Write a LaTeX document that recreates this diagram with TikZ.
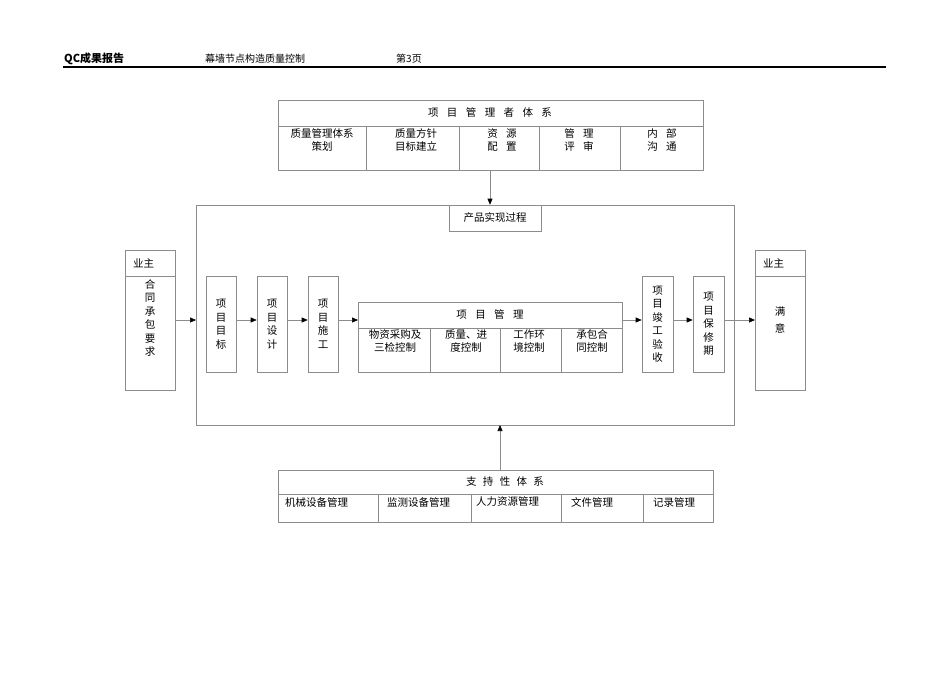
\documentclass[tikz,border=0pt]{standalone}
\usepackage{fontspec}
\setmainfont{Noto Sans CJK SC}
\usetikzlibrary{arrows.meta}
\begin{document}
\begin{tikzpicture}[x=1pt,y=-1pt,
  box/.style={draw=black!45,line width=0.6pt},
  lbl/.style={font=\fontsize{10.5}{13.5}\selectfont,align=center,inner sep=0pt},
  arr/.style={draw=black!45,line width=0.6pt,-{Triangle[black,length=6pt,width=5pt]}}]
\useasboundingbox (0,0) rectangle (950,672);
% header
\node[anchor=base west,font=\bfseries\fontsize{11}{13}\selectfont,inner sep=0pt] (h1) at (64,62) {QC成果报告};
\node[anchor=base west,font=\fontsize{10}{12}\selectfont,inner sep=0pt] (h2) at (205,62) {幕墙节点构造质量控制};
\node[anchor=base west,font=\fontsize{10}{12}\selectfont,inner sep=0pt] (h3) at (396,62) {第3页};
\draw[line width=1.2pt] (63,67) -- (886,67);
% top box
\draw[box] (278,100) rectangle (703,170);
\draw[box] (278,126) -- (703,126);
\foreach \x in {366,459,539,620} \draw[box] (\x,126) -- (\x,170);
\node[lbl] (top) at (490,112) {项\hspace{0.8em}目\hspace{0.8em}管\hspace{0.8em}理\hspace{0.8em}者\hspace{0.8em}体\hspace{0.8em}系};
\node[lbl] (t1) at (322,140) {质量管理体系\\策划};
\node[lbl] (t2) at (416,140) {质量方针\\目标建立};
\node[lbl] (t3) at (502,140) {资\hspace{0.8em}源\\配\hspace{0.8em}置};
\node[lbl] (t4) at (579,140) {管\hspace{0.8em}理\\评\hspace{0.8em}审};
\node[lbl] (t5) at (662,140) {内\hspace{0.8em}部\\沟\hspace{0.8em}通};
\coordinate (topb) at (490,170);
% big box
\draw[box] (196,205) rectangle (734,425);
\node[box,minimum width=92,minimum height=26,lbl] (pr) at (495,218) {产品实现过程};
\draw[arr] (topb) -- (pr.north -| topb);
% owner left
\draw[box] (125,250) rectangle (175,390);
\draw[box] (125,276) -- (175,276);
\node[lbl,anchor=west] (o1) at (133,263) {业主};
\node[lbl,anchor=north] (o1b) at (150,279) {合\\同\\承\\包\\要\\求};
\coordinate (oL) at (175,320);
\coordinate (bigL) at (196,320);
% steps
\node[box,minimum width=30,minimum height=96,lbl] (s1) at (221,324) {项\\目\\目\\标};
\node[box,minimum width=30,minimum height=96,lbl] (s2) at (272,324) {项\\目\\设\\计};
\node[box,minimum width=30,minimum height=96,lbl] (s3) at (323,324) {项\\目\\施\\工};
% project management
\draw[box] (358,302) rectangle (622,372);
\draw[box] (358,328) -- (622,328);
\foreach \x in {430,500,561} \draw[box] (\x,328) -- (\x,372);
\coordinate (pmL) at (358,320);
\coordinate (pmR) at (622,320);
\node[lbl] (pm) at (490,314) {项\hspace{0.8em}目\hspace{0.8em}管\hspace{0.8em}理};
\node[lbl] (p1) at (395,341) {物资采购及\\三检控制};
\node[lbl] (p2) at (466,341) {质量、进\\度控制};
\node[lbl] (p3) at (529,341) {工作环\\境控制};
\node[lbl] (p4) at (592,341) {承包合\\同控制};
\node[box,minimum width=31,minimum height=96,lbl] (s4) at (657.5,324) {项\\目\\竣\\工\\验\\收};
\node[box,minimum width=31,minimum height=96,lbl] (s5) at (708.5,324) {项\\目\\保\\修\\期};
% owner right
\draw[box] (755,250) rectangle (805,390);
\draw[box] (755,276) -- (805,276);
\node[lbl,anchor=west] (o2) at (763,263) {业主};
\node[lbl] (o2b) at (780,320) {满\\[4pt]意};
\coordinate (oR) at (755,320);
% arrows
\draw[arr] (oL) -- (bigL);
\draw[arr] (s1.east |- oL) -- (s2.west |- oL);
\draw[arr] (s2.east |- oL) -- (s3.west |- oL);
\draw[arr] (s3.east |- oL) -- (pmL);
\draw[arr] (pmR) -- (s4.west |- oL);
\draw[arr] (s4.east |- oL) -- (s5.west |- oL);
\draw[arr] (s5.east |- oL) -- (oR);
% support box
\draw[box] (278,470) rectangle (713,522);
\draw[box] (278,494) -- (713,494);
\foreach \x in {378,471,561,643} \draw[box] (\x,494) -- (\x,522);
\node[lbl] (sp) at (505,482) {支\hspace{0.6em}持\hspace{0.6em}性\hspace{0.6em}体\hspace{0.6em}系};
\node[lbl,anchor=west] (u1) at (285,502) {机械设备管理};
\node[lbl,anchor=west] (u2) at (387,502) {监测设备管理};
\node[lbl,anchor=west] (u3) at (476,502) {人力资源管理};
\node[lbl,anchor=west] (u4) at (571,502) {文件管理};
\node[lbl,anchor=west] (u5) at (653,502) {记录管理};
\coordinate (supT) at (500,470);
\coordinate (bigB) at (500,425);
\draw[arr] (supT) -- (bigB);
\end{tikzpicture}
\end{document}
